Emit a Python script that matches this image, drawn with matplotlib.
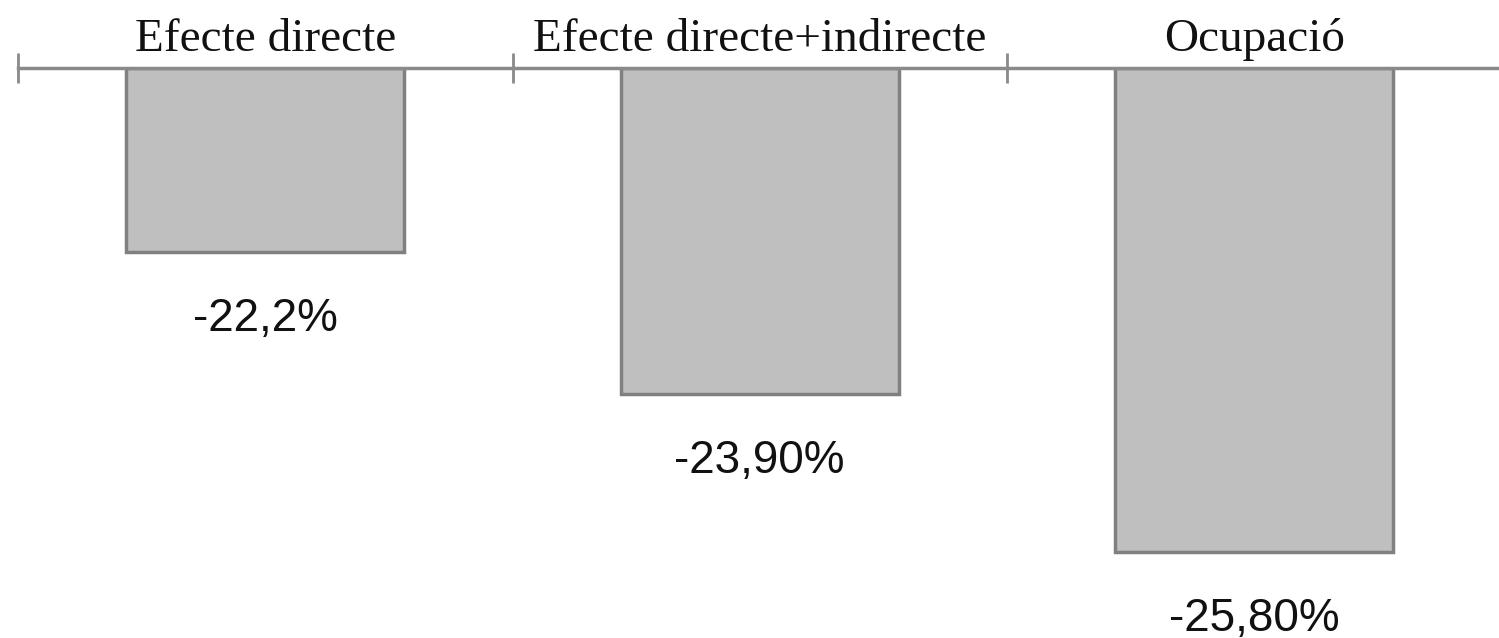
import matplotlib
matplotlib.use('Agg')

import matplotlib.pyplot as plt
import numpy as np

categories = ["Efecte directe", "Efecte directe+indirecte", "Ocupació"]
values = [-22.2, -23.9, -25.8]
labels = ["-22,2%", "-23,90%", "-25,80%"]

baseline = -20.0
px_per_unit = 83.5

W, H = 1499, 638
fig = plt.figure(figsize=(W / 100, H / 100), dpi=100)

# axis line sits 68px from the top, plot runs to the bottom of the figure
ax_h = H - 68
ax = fig.add_axes([18 / W, 0, 1483.5 / W, ax_h / H])

x = np.arange(len(categories))
ax.bar(x, np.array(values) - baseline, bottom=baseline, width=0.562,
       color="#bfbfbf", edgecolor="#808080", linewidth=2.5, zorder=2)

ax.set_xlim(-0.5, 2.5)
ax.set_ylim(baseline - ax_h / px_per_unit, baseline)

for s in ["left", "right", "bottom"]:
    ax.spines[s].set_visible(False)
ax.spines["top"].set_color("#8a8a8a")
ax.spines["top"].set_linewidth(2.5)
ax.spines["top"].set_zorder(3)

ax.set_yticks([])
ax.xaxis.tick_top()
ax.set_xticks([-0.5, 0.5, 1.5, 2.5])
ax.set_xticklabels([])
ax.tick_params(axis="x", which="major", direction="inout", length=22,
               width=2, color="#8a8a8a")
ax.set_xticks(x, minor=True)
ax.set_xticklabels(categories, minor=True, family="Liberation Serif",
                   fontsize=34, color="#111111")
ax.tick_params(axis="x", which="minor", length=0, pad=5)

for xi, v, lab in zip(x, values, labels):
    ax.annotate(lab, (xi, v), xytext=(0, -57), textcoords="offset points",
                ha="center", va="baseline", fontsize=33,
                family="Liberation Sans", color="#111111")

fig.savefig("out.png", dpi=100)
